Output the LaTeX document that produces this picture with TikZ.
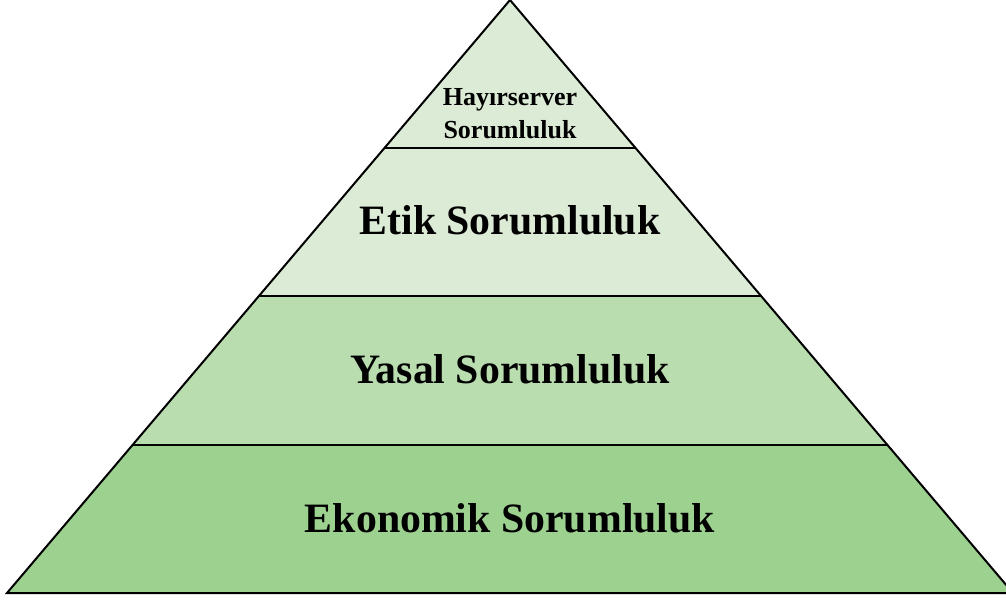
\documentclass[tikz,border=0pt]{standalone}
\usepackage{fontspec}
\setmainfont{Liberation Serif}
\usetikzlibrary{calc}
\definecolor{lay1}{HTML}{DCEBD6}
\definecolor{lay3}{HTML}{BADDB0}
\definecolor{lay4}{HTML}{9DD18F}
\tikzset{
  layer/.style={draw=black, line width=2pt, line join=miter},
  lbl/.style={font=\bfseries\fontsize{41.8}{46}\selectfont, inner sep=0pt},
  lblsmall/.style={font=\bfseries\fontsize{26}{33}\selectfont, inner sep=0pt, align=center}
}
\begin{document}
\begin{tikzpicture}[x=1pt,y=1pt]
\useasboundingbox (0,0) rectangle (1006,600);
\begin{scope}
\clip (0,0) rectangle (1006,600);
\coordinate (A) at (510,600);
\coordinate (L) at (7,7);
\coordinate (R) at (1013,7);
\coordinate (L1) at ($(A)!0.25!(L)$);
\coordinate (R1) at ($(A)!0.25!(R)$);
\coordinate (L2) at ($(A)!0.5!(L)$);
\coordinate (R2) at ($(A)!0.5!(R)$);
\coordinate (L3) at ($(A)!0.75!(L)$);
\coordinate (R3) at ($(A)!0.75!(R)$);
\fill[lay4] (L3) -- (R3) -- (R) -- (L) -- cycle;
\fill[lay3] (L2) -- (R2) -- (R3) -- (L3) -- cycle;
\fill[lay1] (A) -- (R2) -- (L2) -- cycle;
\draw[layer] (L1) -- (R1);
\draw[layer] (L2) -- (R2);
\draw[layer] (L3) -- (R3);
\draw[layer] (A) -- (R) -- (L) -- cycle;
\end{scope}
\node[lblsmall] (hay) at (510,486) {Hayırserver\\Sorumluluk};
\node[lbl] (etik) at (510,380) {Etik Sorumluluk};
\node[lbl] (yasal) at (510,231) {Yasal Sorumluluk};
\node[lbl] (eko) at (510,82) {Ekonomik Sorumluluk};
\end{tikzpicture}
\end{document}
